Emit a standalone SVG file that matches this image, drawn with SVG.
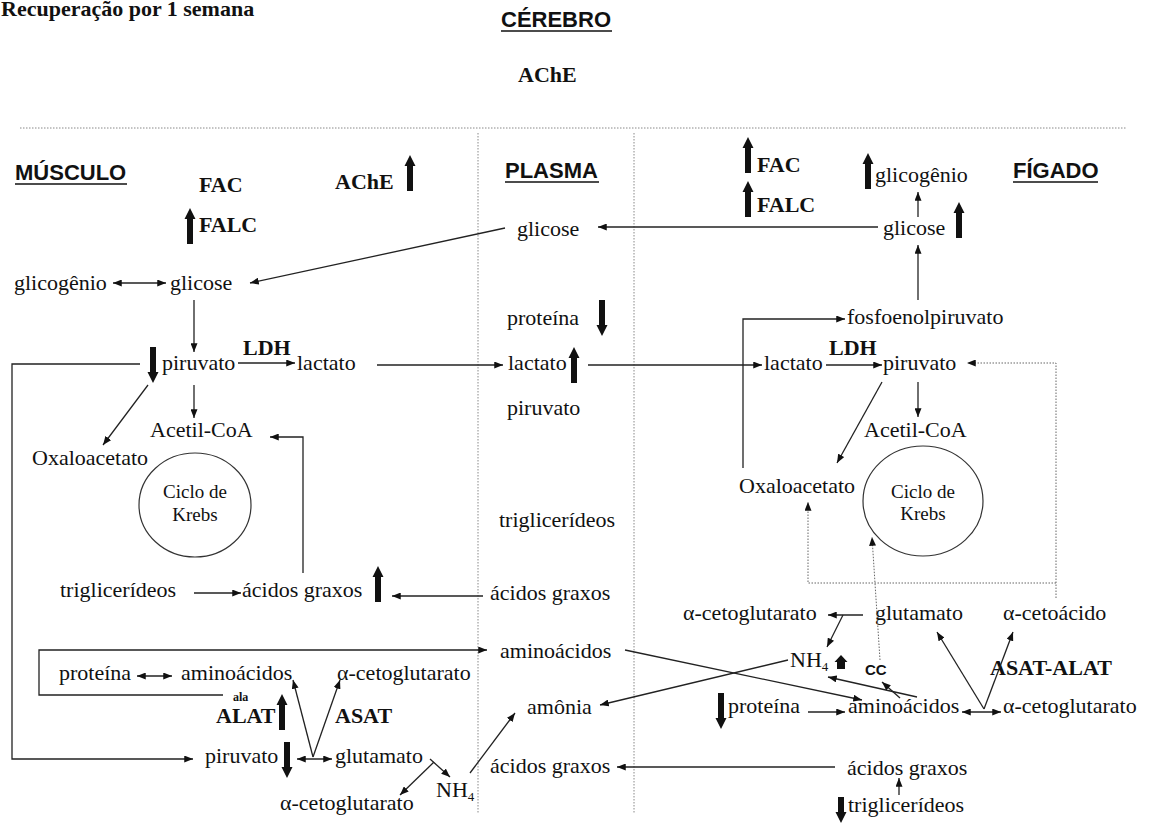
<svg xmlns="http://www.w3.org/2000/svg" xmlns:xlink="http://www.w3.org/1999/xlink" width="1154" height="825" viewBox="0 0 1154 825">
<style>
.t{font-family:"Liberation Serif","Times New Roman",serif;font-size:22px;fill:#111}
.b{font-weight:bold}
.k{font-size:19px}
.sm{font-size:12px}
.s{font-family:"Liberation Sans",Arial,sans-serif;font-weight:bold;font-size:22px;fill:#111}
.u{stroke:#111;stroke-width:1.6}
.c{fill:none;stroke:#222;stroke-width:1.3}
.a{marker-end:url(#ah)}
.a2{marker-start:url(#ah);marker-end:url(#ah)}
.d{fill:none;stroke:#666;stroke-width:1;stroke-dasharray:1.5 1.5}
.g{fill:none;stroke:#888;stroke-width:1;stroke-dasharray:1.5 1.5}
.th{fill:#111}
.ring{fill:none;stroke:#333;stroke-width:1.2}
</style>
<defs>
<marker id="ah" viewBox="0 0 10 8" refX="10" refY="4" markerWidth="9" markerHeight="7" orient="auto-start-reverse" markerUnits="userSpaceOnUse"><path d="M0,0L10,4L0,8z" fill="#111"/></marker>
<path id="up" d="M0,0 L5.5,11 L3,11 L3,36 L-3,36 L-3,11 L-5.5,11 Z"/>
<path id="dn" d="M0,36 L5.5,25 L3,25 L3,0 L-3,0 L-3,25 L-5.5,25 Z"/>
</defs>
<rect width="1154" height="825" fill="#fff"/>

<g id="layout">
<text class="t b" x="1" y="16">Recuperação por 1 semana</text>
<line class="g" x1="20" y1="128" x2="1127" y2="128"/>
<line class="g" x1="478" y1="133" x2="478" y2="813"/>
<line class="g" x1="634" y1="133" x2="634" y2="813"/>
</g>

<g id="cerebro"><text class="s" x="501" y="27">CÉREBRO</text><line class="u" x1="501" y1="31" x2="612" y2="31"/></g>
<g id="ache-cerebro"><text class="t b" x="518" y="82">AChE</text></g>
<g id="musculo"><text class="s" x="15" y="180">MÚSCULO</text><line class="u" x1="15" y1="184" x2="127" y2="184"/></g>
<g id="plasma"><text class="s" x="505" y="178">PLASMA</text><line class="u" x1="505" y1="182" x2="599" y2="182"/></g>
<g id="figado"><text class="s" x="1013" y="178">FÍGADO</text><line class="u" x1="1013" y1="182" x2="1098" y2="182"/></g>

<!-- Muscle -->
<g id="m-fac"><text class="t b" x="199" y="192">FAC</text></g>
<g id="m-falc"><use href="#up" class="th" x="190" y="208"/><text class="t b" x="199" y="232">FALC</text></g>
<g id="m-ache"><text class="t b" x="335" y="189">AChE</text><use href="#up" class="th" x="410" y="155"/></g>
<g id="m-glicogenio"><text class="t" x="14" y="290">glicogênio</text></g>
<g id="m-glicose"><text class="t" x="170" y="290">glicose</text></g>
<g id="m-piruvato"><use href="#dn" class="th" x="153" y="347"/><text class="t" x="162" y="370">piruvato</text></g>
<g id="m-ldh"><text class="t b" x="243" y="355">LDH</text></g>
<g id="m-lactato"><text class="t" x="297" y="370">lactato</text></g>
<g id="m-acetilcoa"><text class="t" x="150" y="437">Acetil-CoA</text></g>
<g id="m-oxaloacetato"><text class="t" x="32" y="465">Oxaloacetato</text></g>
<g id="m-krebs"><ellipse class="ring" cx="195" cy="505" rx="56" ry="52"/><text class="t k" x="195" y="498" text-anchor="middle">Ciclo de</text><text class="t k" x="195" y="521" text-anchor="middle">Krebs</text></g>
<g id="m-triglicerideos"><text class="t" x="60" y="597">triglicerídeos</text></g>
<g id="m-acidos"><text class="t" x="242" y="597">ácidos graxos</text><use href="#up" class="th" x="378" y="566"/></g>
<g id="m-proteina"><text class="t" x="59" y="680">proteína</text></g>
<g id="m-aminoacidos"><text class="t" x="181" y="680">aminoácidos</text></g>
<g id="m-acg1"><text class="t" x="337" y="680">α-cetoglutarato</text></g>
<g id="m-alat"><text class="t b sm" x="233" y="701">ala</text><text class="t b" x="216" y="723">ALAT</text><use href="#up" class="th" x="282" y="694"/></g>
<g id="m-asat"><text class="t b" x="335" y="723">ASAT</text></g>
<g id="m-piruvato2"><text class="t" x="205" y="763">piruvato</text><use href="#dn" class="th" x="287" y="742"/></g>
<g id="m-glutamato"><text class="t" x="335" y="763">glutamato</text></g>
<g id="m-acg2"><text class="t" x="280" y="810">α-cetoglutarato</text></g>
<g id="m-nh4"><text class="t" x="436" y="797">NH<tspan font-size="13" dy="4">4</tspan></text></g>

<!-- Plasma -->
<g id="p-glicose"><text class="t" x="517" y="236">glicose</text></g>
<g id="p-proteina"><text class="t" x="507" y="325">proteína</text><use href="#dn" class="th" x="602" y="300"/></g>
<g id="p-lactato"><text class="t" x="508" y="370">lactato</text><use href="#up" class="th" x="574" y="347"/></g>
<g id="p-piruvato"><text class="t" x="507" y="415">piruvato</text></g>
<g id="p-triglicerideos"><text class="t" x="499" y="527">triglicerídeos</text></g>
<g id="p-acidos"><text class="t" x="490" y="600">ácidos graxos</text></g>
<g id="p-aminoacidos"><text class="t" x="500" y="658">aminoácidos</text></g>
<g id="p-amonia"><text class="t" x="527" y="714">amônia</text></g>
<g id="p-acidos2"><text class="t" x="490" y="773">ácidos graxos</text></g>

<!-- Liver -->
<g id="f-fac"><use href="#up" class="th" x="748" y="137"/><text class="t b" x="757" y="172">FAC</text></g>
<g id="f-falc"><use href="#up" class="th" x="748" y="181"/><text class="t b" x="757" y="212">FALC</text></g>
<g id="f-glicogenio"><use href="#up" class="th" x="868" y="153"/><text class="t" x="875" y="182">glicogênio</text></g>
<g id="f-glicose"><text class="t" x="883" y="235">glicose</text><use href="#up" class="th" x="959" y="202"/></g>
<g id="f-fosfoenolpiruvato"><text class="t" x="847" y="324">fosfoenolpiruvato</text></g>
<g id="f-lactato"><text class="t" x="764" y="370">lactato</text></g>
<g id="f-ldh"><text class="t b" x="829" y="355">LDH</text></g>
<g id="f-piruvato"><text class="t" x="883" y="370">piruvato</text></g>
<g id="f-acetilcoa"><text class="t" x="864" y="437">Acetil-CoA</text></g>
<g id="f-oxaloacetato"><text class="t" x="739" y="493">Oxaloacetato</text></g>
<g id="f-krebs"><ellipse class="ring" cx="923" cy="501" rx="60" ry="55"/><text class="t k" x="923" y="498" text-anchor="middle">Ciclo de</text><text class="t k" x="923" y="520" text-anchor="middle">Krebs</text></g>
<g id="f-acg1"><text class="t" x="683" y="620">α-cetoglutarato</text></g>
<g id="f-glutamato"><text class="t" x="875" y="620">glutamato</text></g>
<g id="f-cetoacido"><text class="t" x="1003" y="620">α-cetoácido</text></g>
<g id="f-nh4"><text class="t" x="790" y="667">NH<tspan font-size="13" dy="4">4</tspan></text><path class="th" d="M841,655 L847.5,662 L845,662 L845,669 L837,669 L837,662 L834.5,662 Z"/></g>
<g id="f-cc"><text x="865" y="675" font-family="Liberation Sans,Arial,sans-serif" font-weight="bold" font-size="15" fill="#111">CC</text></g>
<g id="f-asatalat"><text class="t b" x="990" y="675">ASAT-ALAT</text></g>
<g id="f-proteina"><use href="#dn" class="th" x="721" y="693"/><text class="t" x="728" y="713">proteína</text></g>
<g id="f-aminoacidos"><text class="t" x="848" y="713">aminoácidos</text></g>
<g id="f-acg2"><text class="t" x="1003" y="713">α-cetoglutarato</text></g>
<g id="f-acidos"><text class="t" x="847" y="775">ácidos graxos</text></g>
<g id="f-triglicerideos"><path class="th" d="M841,823 L846.5,812 L844,812 L844,797 L838,797 L838,812 L835.5,812 Z"/><text class="t" x="848" y="812">triglicerídeos</text></g>

<g id="connectors">
<line class="c a2" x1="113" y1="283" x2="166" y2="283"/>
<line class="c a" x1="505" y1="228" x2="250" y2="283"/>
<line class="c a" x1="878" y1="227" x2="598" y2="227"/>
<line class="c a" x1="194" y1="300" x2="194" y2="352"/>
<line class="c a" x1="238" y1="363" x2="295" y2="363"/>
<line class="c a" x1="377" y1="365" x2="503" y2="365"/>
<line class="c a" x1="588" y1="365" x2="762" y2="365"/>
<line class="c a" x1="826" y1="365" x2="882" y2="365"/>
<line class="c a" x1="918" y1="217" x2="918" y2="192"/>
<line class="c a" x1="918" y1="300" x2="918" y2="245"/>
<polyline class="c a" points="743,468 743,319 845,319"/>
<line class="c a" x1="918" y1="382" x2="918" y2="417"/>
<line class="c a" x1="882" y1="382" x2="837" y2="463"/>
<line class="c a" x1="194" y1="385" x2="194" y2="418"/>
<line class="c a" x1="148" y1="385" x2="103" y2="445"/>
<polyline class="c a" points="303,573 303,437 270,437"/>
<polyline class="c a" points="140,364 12,364 12,759 193,759"/>
<line class="c a" x1="194" y1="593" x2="241" y2="593"/>
<line class="c a" x1="483" y1="596" x2="392" y2="596"/>
<polyline class="c a" points="223,695 39,695 39,650 487,650"/>
<line class="c a2" x1="137" y1="676" x2="172" y2="676"/>
<line class="c a2" x1="297" y1="759" x2="332" y2="759"/>
<line class="c a" x1="313" y1="757" x2="293" y2="680"/>
<line class="c a" x1="313" y1="757" x2="340" y2="680"/>
<line class="c a" x1="430" y1="759" x2="450" y2="777"/>
<line class="c a" x1="434" y1="762" x2="400" y2="795"/>
<line class="c a" x1="470" y1="773" x2="515" y2="713"/>
<line class="c a" x1="788" y1="660" x2="600" y2="705"/>
<line class="c a" x1="835" y1="767" x2="617" y2="767"/>
<line class="c a" x1="625" y1="650" x2="862" y2="700"/>
<line class="c a" x1="863" y1="615" x2="828" y2="615"/>
<line class="c a" x1="843" y1="615" x2="827" y2="647"/>
<line class="c a" x1="917" y1="697" x2="828" y2="677"/>
<line class="c a" x1="900" y1="698" x2="882" y2="682"/>
<line class="c a" x1="808" y1="712" x2="845" y2="712"/>
<line class="c a2" x1="962" y1="712" x2="1001" y2="712"/>
<line class="c a" x1="984" y1="709" x2="937" y2="632"/>
<line class="c a" x1="984" y1="709" x2="1013" y2="632"/>
<line class="c a" x1="899" y1="795" x2="899" y2="778"/>
<polyline class="d a" points="1056,598 1056,363 967,363"/>
<polyline class="d a" points="1056,583 808,583 808,502"/>
<line class="d a" x1="880" y1="660" x2="872" y2="537"/>
</g>
</svg>
